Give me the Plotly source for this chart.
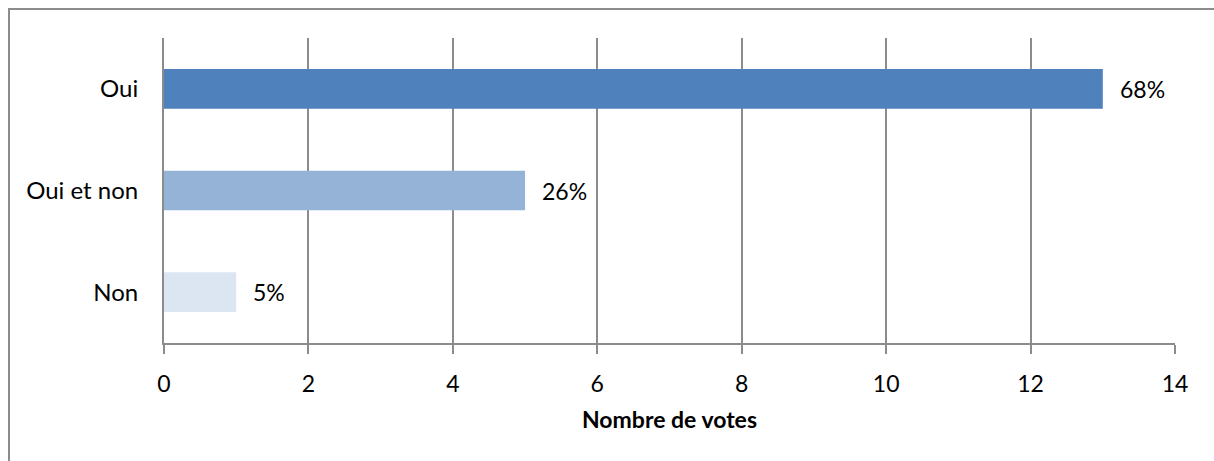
import plotly.graph_objects as go

categories = ["Oui", "Oui et non", "Non"]
votes = [13, 5, 1]
pct_labels = ["68%", "26%", "5%"]
colors = ["#4F81BD", "#95B3D7", "#DCE6F2"]
x_ticks = [0, 2, 4, 6, 8, 10, 12, 14]

FONT = "Lato"
FS = 23
GRID = "#8C8C8C"

W, H = 1214, 461
L, R, T, B = 164, 39, 38, 118
PW = W - L - R
PH = H - T - B

fig = go.Figure()
fig.add_trace(go.Bar(
    y=categories, x=votes, orientation="h",
    marker=dict(color=colors, line=dict(width=0)),
    width=0.39, hoverinfo="skip",
))

for cat, v, lab in zip(categories, votes, pct_labels):
    fig.add_annotation(x=v, y=cat, text=lab, showarrow=False,
                       xanchor="left", xshift=15,
                       font=dict(family=FONT, size=FS, color="#000000"))

fig.update_layout(
    width=W, height=H,
    margin=dict(l=L, r=R, t=T, b=B),
    paper_bgcolor="white", plot_bgcolor="white",
    showlegend=False,
    font=dict(family=FONT, size=FS, color="#000000"),
    xaxis=dict(
        range=[0, 14], tickvals=x_ticks, ticktext=[str(t) for t in x_ticks],
        showgrid=True, gridcolor=GRID, gridwidth=2,
        showline=True, linecolor=GRID, linewidth=2,
        ticks="outside", ticklen=9, tickcolor=GRID, tickwidth=2,
        ticklabelstandoff=10,
        zeroline=False, fixedrange=True,
        title=dict(text="<b>Nombre de votes</b>", font=dict(family=FONT, size=FS), standoff=16),
        tickfont=dict(family=FONT, size=FS),
    ),
    yaxis=dict(
        categoryorder="array", categoryarray=categories[::-1],
        showline=True, linecolor=GRID, linewidth=2,
        showgrid=False, zeroline=False, ticks="", ticklen=0,
        ticklabelstandoff=19, fixedrange=True,
        tickfont=dict(family=FONT, size=24),
    ),
    shapes=[
        dict(type="rect", xref="paper", yref="paper",
             x0=-(L - 9) / PW, x1=1 + (R + 30) / PW,
             y0=-(B + 30) / PH, y1=1 + (T - 9) / PH,
             line=dict(color=GRID, width=2), fillcolor="rgba(0,0,0,0)", layer="below"),
    ],
)

fig.write_html(
    "out.html",
    config={"displayModeBar": False, "staticPlot": True},
    post_script="document.body.style.margin='0';document.body.style.overflow='hidden';"
                "document.documentElement.style.overflow='hidden';",
)
